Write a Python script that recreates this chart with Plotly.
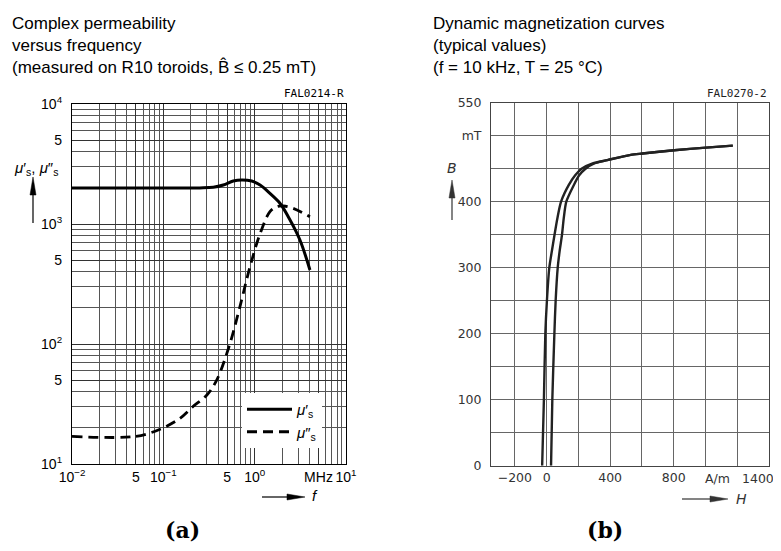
import plotly.graph_objects as go

# ---------------------------------------------------------------
#  DATA
# ---------------------------------------------------------------
# (a) complex permeability vs frequency (MHz)
freq_mu1 = [0.01, 0.1, 0.25, 0.352, 0.454, 0.583, 0.72, 0.929, 1.146, 1.47, 1.89, 2.44, 3.13, 4.03]
mu1 = [2000, 2000, 2000, 2022, 2113, 2280, 2330, 2280, 2113, 1800, 1488, 1080, 736, 414]

freq_mu2 = [0.01, 0.05, 0.092, 0.152, 0.21, 0.30, 0.384, 0.537, 0.66, 0.72, 0.89, 1.15, 1.47, 1.74, 2.06, 2.63, 4.03]
mu2 = [17, 17, 19.5, 24, 30, 37.6, 50, 101, 180, 233, 441, 836, 1266, 1393, 1413, 1352, 1150]

a_xtickvals = [0.01, 0.05, 0.1, 0.5, 1, 5, 10]
a_xticktext = ["10<sup>−2</sup>", "5", "10<sup>−1</sup>", "5", "10<sup>0</sup>", "MHz", "10<sup>1</sup>"]
a_ytickvals = [10, 50, 100, 500, 1000, 5000, 10000]
a_yticktext = ["10<sup>1</sup>", "5", "10<sup>2</sup>", "5", "10<sup>3</sup>", "5", "10<sup>4</sup>"]

# (b) dynamic magnetization curves, H in A/m, B in mT
B_branch = [0, 100, 200, 250, 300, 325, 350, 375, 400, 425, 440, 450, 458, 463, 471, 473, 478, 482, 485]
H_left = [-28, -17, -8, 2, 17, 33, 50, 68, 91, 139, 180, 220, 290, 382, 530, 604, 803, 1003, 1172]
H_right = [28, 36, 49, 57, 70, 82, 97, 108, 124, 171, 205, 245, 300, 382, 530, 604, 803, 1003, 1172]

b_xtickvals = [-200, 0, 400, 800, 1000, 1400]
b_xticktext = ["−200", "0", "400", "800", "A/m", "1400"]
b_ytickvals = [0, 100, 200, 300, 400, 500, 550]
b_yticktext = ["0", "100", "200", "300", "400", "mT", "550"]

# ---------------------------------------------------------------
#  FIGURE
# ---------------------------------------------------------------
# the page body adds an 8 px margin on every side; size the figure so the
# page does not overflow the 781x551 window
OFF = 8
W, H = 781 - 2 * OFF, 551 - 2 * OFF


def px(x):
    return (x - OFF) / W


def py(y):
    return 1 - (y - OFF) / H


fig = go.Figure()

fig.add_trace(go.Scatter(x=freq_mu1, y=mu1, mode="lines", line=dict(color="black", width=3, shape="spline"),
                         name="<i>μ</i>′<sub>s</sub>", xaxis="x", yaxis="y"))
fig.add_trace(go.Scatter(x=freq_mu2, y=mu2, mode="lines",
                         line=dict(color="black", width=2.8, dash="10px,6px", shape="spline"),
                         name="<i>μ</i>″<sub>s</sub>", xaxis="x", yaxis="y"))

for hh in (H_left, H_right):
    fig.add_trace(go.Scatter(x=hh, y=B_branch, mode="lines",
                             line=dict(color="#222", width=2.4, shape="spline", smoothing=0.7),
                             showlegend=False, xaxis="x2", yaxis="y2"))

minor_log = [m * 10 ** e for e in range(-2, 1) for m in range(2, 10)]
minor_log_y = [m * 10 ** e for e in range(1, 4) for m in range(2, 10)]

tickfont_a = dict(family="Liberation Sans, Arial", size=14, color="black")
tickfont_b = dict(family="DejaVu Sans", size=12.5, color="#333")

fig.update_layout(
    template="none",
    width=W, height=H,
    margin=dict(l=0, r=0, t=0, b=0, autoexpand=False),
    paper_bgcolor="white", plot_bgcolor="white",
    showlegend=True,
    legend=dict(x=px(242), y=py(393), xanchor="left", yanchor="top",
                bgcolor="white", borderwidth=0, itemwidth=45,
                font=dict(family="Liberation Sans, Arial", size=15, color="black"),
                tracegroupgap=0),
    xaxis=dict(type="log", range=[-2, 1], domain=[px(72), px(346)], anchor="y", automargin=False,
               tickvals=a_xtickvals, ticktext=a_xticktext, tickfont=tickfont_a, ticks="", tickangle=0,
               ticklabeloverflow="allow",
               showgrid=True, gridcolor="#333", gridwidth=1,
               minor=dict(tickvals=minor_log, showgrid=True, gridcolor="#555", gridwidth=1, ticks=""),
               showline=True, linecolor="black", linewidth=1.2, mirror=True, zeroline=False),
    yaxis=dict(type="log", range=[1, 4], domain=[py(464), py(104)], anchor="x", automargin=False,
               tickvals=a_ytickvals, ticktext=a_yticktext, tickfont=tickfont_a, ticks="",
               ticklabelstandoff=6, ticklabeloverflow="allow",
               showgrid=True, gridcolor="#333", gridwidth=1,
               minor=dict(tickvals=minor_log_y, showgrid=True, gridcolor="#555", gridwidth=1, ticks=""),
               showline=True, linecolor="black", linewidth=1.2, mirror=True, zeroline=False),
    # the last two labels (A/m, 1400) are placed as annotations below, slightly shifted
    xaxis2=dict(range=[-350, 1400], domain=[px(491), px(769)], anchor="y2", automargin=False,
                tickvals=b_xtickvals[:-2], ticktext=b_xticktext[:-2], tickfont=tickfont_b, ticks="",
                tickangle=0, ticklabeloverflow="allow",
                showgrid=False,
                minor=dict(tickmode="linear", tick0=0, dtick=200, showgrid=True, gridcolor="#666",
                           gridwidth=1, ticks=""),
                showline=True, linecolor="#444", linewidth=1, mirror=True, zeroline=False),
    yaxis2=dict(range=[0, 550], domain=[py(465.7), py(102.7)], anchor="x2", automargin=False,
                tickvals=b_ytickvals, ticktext=b_yticktext, tickfont=tickfont_b, ticks="",
                ticklabelstandoff=6, ticklabeloverflow="allow",
                showgrid=False,
                minor=dict(tickmode="linear", tick0=0, dtick=50, showgrid=True, gridcolor="#666",
                           gridwidth=1, ticks=""),
                showline=True, linecolor="#444", linewidth=1, mirror=True, zeroline=False),
)

title_font = dict(family="Liberation Sans, Arial", size=17, color="black")
ann = [
    dict(x=px(10), y=py(12), xanchor="left", yanchor="top", align="left", font=title_font,
         text="Complex permeability<br>versus frequency<br>(measured on R10 toroids, B̂ ≤ 0.25 mT)"),
    dict(x=px(431), y=py(12), xanchor="left", yanchor="top", align="left", font=title_font,
         text="Dynamic magnetization curves<br>(typical values)<br>(f = 10 kHz, T = 25 °C)"),
    dict(x=px(346), y=py(93), xanchor="right", yanchor="middle", text="FAL0214-R",
         font=dict(family="DejaVu Sans Mono", size=11, color="black")),
    dict(x=px(769), y=py(93), xanchor="right", yanchor="middle", text="FAL0270-2",
         font=dict(family="DejaVu Sans Mono", size=11, color="#222")),
    dict(x=px(36), y=py(168), xanchor="center", yanchor="middle",
         text="<i>μ</i>′<sub>s</sub>, <i>μ</i>″<sub>s</sub>",
         font=dict(family="Liberation Sans, Arial", size=15, color="black")),
    dict(x=px(310), y=py(496), xanchor="left", yanchor="middle", text="<i>f</i>",
         font=dict(family="Liberation Sans, Arial", size=15, color="black")),
    dict(x=px(452), y=py(168), xanchor="center", yanchor="middle", text="<i>B</i>",
         font=dict(family="DejaVu Sans", size=14, color="#333")),
    dict(x=px(734), y=py(499), xanchor="left", yanchor="middle", text="<i>H</i>",
         font=dict(family="DejaVu Sans", size=14, color="#333")),
    dict(x=px(182), y=py(530), xanchor="center", yanchor="middle", text="<b>(a)</b>",
         font=dict(family="DejaVu Serif", size=22, color="black")),
    dict(x=px(605), y=py(530), xanchor="center", yanchor="middle", text="<b>(b)</b>",
         font=dict(family="DejaVu Serif", size=22, color="black")),
]
for a in ann:
    a.update(xref="paper", yref="paper", showarrow=False)

# remaining x tick labels of (b), positioned on the axis scale
for val, txt, shift in zip(b_xtickvals[-2:], b_xticktext[-2:], (12, -11)):
    ann.append(dict(x=val, xref="x2", y=py(478), yref="paper", xanchor="center", yanchor="middle",
                    xshift=shift, text=txt, showarrow=False, font=tickfont_b))

fig.update_layout(annotations=ann)


def arrow_up(x, y0, y1, color):
    # thin shaft from y0 (bottom) up to y1 (tip), with a narrow filled head
    return [
        dict(type="line", xref="paper", yref="paper", x0=px(x), x1=px(x), y0=py(y0), y1=py(y1 + 14),
             line=dict(color=color, width=1.2)),
        dict(type="path", xref="paper", yref="paper", fillcolor=color, line=dict(color=color, width=0.5),
             path=f"M {px(x - 3)} {py(y1 + 18)} L {px(x)} {py(y1)} L {px(x + 3)} {py(y1 + 18)} Z"),
    ]


def arrow_right(x0, x1, y, color):
    return [
        dict(type="line", xref="paper", yref="paper", x0=px(x0), x1=px(x1 - 14), y0=py(y), y1=py(y),
             line=dict(color=color, width=1.2)),
        dict(type="path", xref="paper", yref="paper", fillcolor=color, line=dict(color=color, width=0.5),
             path=f"M {px(x1 - 18)} {py(y - 3)} L {px(x1)} {py(y)} L {px(x1 - 18)} {py(y + 3)} Z"),
    ]


shapes = []
shapes += arrow_up(33, 223, 177, "black")
shapes += arrow_right(262, 305, 497, "black")
shapes += arrow_up(452, 220, 180, "#333")
shapes += arrow_right(682, 728, 499, "#333")
fig.update_layout(shapes=shapes)

fig.write_html("out.html")
